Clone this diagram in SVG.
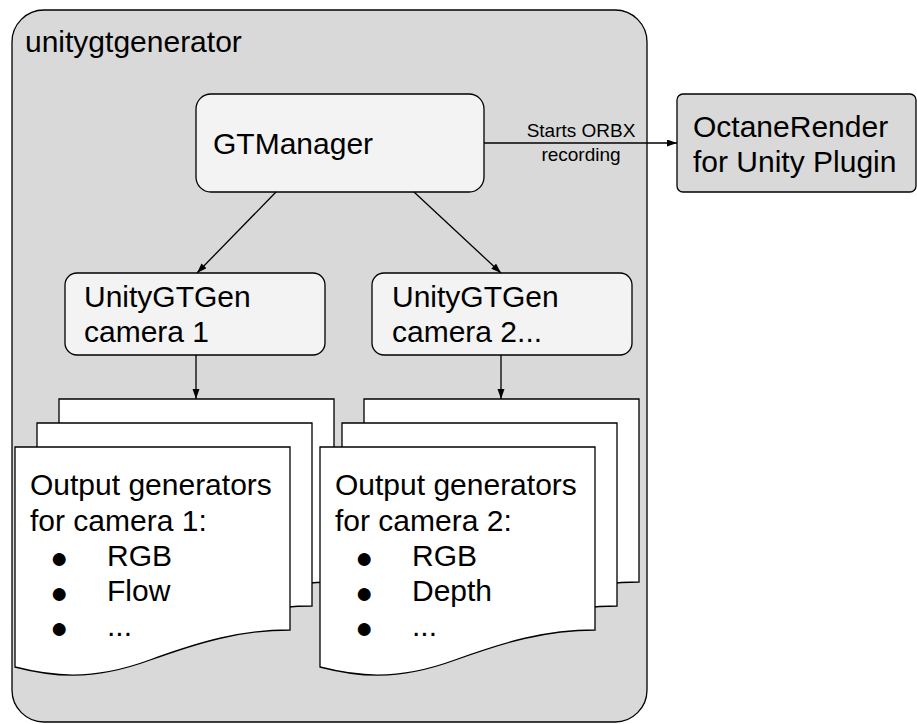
<svg xmlns="http://www.w3.org/2000/svg" xmlns:xlink="http://www.w3.org/1999/xlink" width="917" height="724" viewBox="0 0 917 724">
<style>
  .t { font-family: "Liberation Sans", Arial, sans-serif; fill: #000; }
  .big { font-size: 30px; }
  .small { font-size: 19px; }
  .bul { font-size: 30px; }
  .ln { stroke: #000; stroke-width: 1.3; fill: none; }
  .box { stroke: #000; stroke-width: 1.3; }
  .doc { fill: #fff; stroke: #000; stroke-width: 1.3; }
</style>
<defs>
  <marker id="arr" markerUnits="userSpaceOnUse" markerWidth="11" markerHeight="8" refX="10" refY="3.5" orient="auto">
    <path d="M0,0 L10,3.5 L0,7 z" fill="#000"/>
  </marker>
  <path id="docshape" d="M0,0 H275 V183 C225,183 185,195 135,213 C75,235 35,229 0,220 Z"/>
</defs>
<rect width="917" height="724" fill="#fff"/>

<g id="unitygtgenerator">
  <rect class="box" x="12" y="10" width="635" height="712" rx="32" fill="#d9d9d9"/>
  <text class="t big" x="25" y="52">unitygtgenerator</text>
</g>

<g id="gtmanager">
  <rect class="box" x="196" y="94" width="288" height="98" rx="15" fill="#f3f3f3"/>
  <text class="t big" x="213" y="154">GTManager</text>
</g>

<g id="octanerender">
  <rect class="box" x="677" y="94" width="239" height="98" rx="6" fill="#d9d9d9"/>
  <text class="t big" x="693" y="137">OctaneRender</text>
  <text class="t big" x="693" y="172">for Unity Plugin</text>
</g>

<g id="camera1">
  <rect class="box" x="65" y="273" width="260" height="82" rx="12" fill="#f3f3f3"/>
  <text class="t big" x="84" y="307">UnityGTGen</text>
  <text class="t big" x="84" y="342">camera 1</text>
</g>

<g id="camera2">
  <rect class="box" x="372" y="273" width="260" height="82" rx="12" fill="#f3f3f3"/>
  <text class="t big" x="392" y="307">UnityGTGen</text>
  <text class="t big" x="392" y="342">camera 2...</text>
</g>

<g id="outputs1">
  <use xlink:href="#docshape" href="#docshape" class="doc" transform="translate(59,399)"/>
  <use xlink:href="#docshape" href="#docshape" class="doc" transform="translate(37,423)"/>
  <use xlink:href="#docshape" href="#docshape" class="doc" transform="translate(15,447)"/>
  <text class="t big" x="30" y="495">Output generators</text>
  <text class="t big" x="30" y="531">for camera 1:</text>
  <text class="t bul" x="59" y="568" text-anchor="middle">●</text>
  <text class="t big" x="107" y="566">RGB</text>
  <text class="t bul" x="59" y="603" text-anchor="middle">●</text>
  <text class="t big" x="107" y="601">Flow</text>
  <text class="t bul" x="59" y="638" text-anchor="middle">●</text>
  <text class="t big" x="107" y="636">...</text>
</g>

<g id="outputs2">
  <use xlink:href="#docshape" href="#docshape" class="doc" transform="translate(364,399)"/>
  <use xlink:href="#docshape" href="#docshape" class="doc" transform="translate(342,423)"/>
  <use xlink:href="#docshape" href="#docshape" class="doc" transform="translate(320,447)"/>
  <text class="t big" x="335" y="495">Output generators</text>
  <text class="t big" x="335" y="531">for camera 2:</text>
  <text class="t bul" x="364" y="568" text-anchor="middle">●</text>
  <text class="t big" x="412" y="566">RGB</text>
  <text class="t bul" x="364" y="603" text-anchor="middle">●</text>
  <text class="t big" x="412" y="601">Depth</text>
  <text class="t bul" x="364" y="638" text-anchor="middle">●</text>
  <text class="t big" x="412" y="636">...</text>
</g>

<g id="connectors">
  <path class="ln" d="M484,143 H677" marker-end="url(#arr)"/>
  <text class="t small" x="581" y="137" text-anchor="middle">Starts ORBX</text>
  <text class="t small" x="581" y="161" text-anchor="middle">recording</text>
  <path class="ln" d="M276,192 L197,273" marker-end="url(#arr)"/>
  <path class="ln" d="M414,192 L501,273" marker-end="url(#arr)"/>
  <path class="ln" d="M196,355 V399" marker-end="url(#arr)"/>
  <path class="ln" d="M501,355 V399" marker-end="url(#arr)"/>
</g>
</svg>
